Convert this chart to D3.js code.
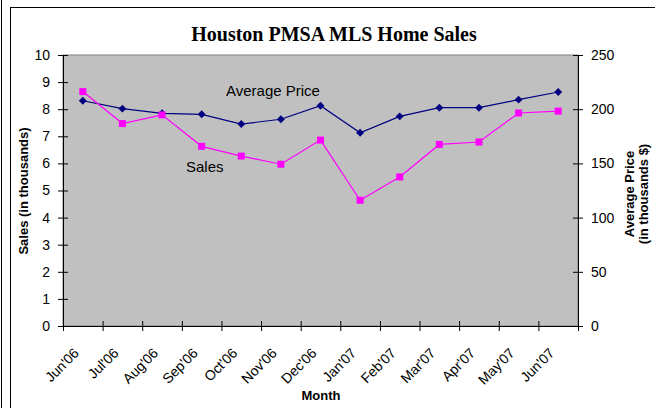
<!DOCTYPE html>
<html>
<head>
<meta charset="utf-8">
<script src="https://cdn.jsdelivr.net/npm/d3@7/dist/d3.min.js"></script>
<style>
  html, body { margin: 0; padding: 0; background: #fff; }
  svg { display: block; }
  text { font-family: Arial, "Liberation Sans", sans-serif; }
</style>
</head>
<body>
<svg id="chart" width="655" height="408"></svg>
<script>
const months = ["Jun'06","Jul'06","Aug'06","Sep'06","Oct'06","Nov'06","Dec'06","Jan'07","Feb'07","Mar'07","Apr'07","May'07","Jun'07"];
const sales = [8.65, 7.47, 7.79, 6.63, 6.27, 5.97, 6.86, 4.64, 5.50, 6.70, 6.79, 7.86, 7.93];
const avgPrice = [207.8, 200.5, 196.2, 195.3, 186.3, 190.7, 203.2, 178.3, 193.4, 201.4, 201.4, 208.8, 215.9];
const salesTicks = [0,1,2,3,4,5,6,7,8,9,10];
const priceTicks = [0,50,100,150,200,250];

const svg = d3.select("#chart");
const L = 63, R = 578, T = 55, B = 326;

// frame
svg.append("line").attr("x1",1.5).attr("x2",1.5).attr("y1",0).attr("y2",408).attr("stroke","#000").attr("stroke-width",1);
svg.append("rect").attr("x",10.5).attr("y",7.5).attr("width",700).attr("height",450)
  .attr("fill","none").attr("stroke","#000").attr("stroke-width",1);

const x = d3.scaleBand().domain(months).range([L, R]);
const xb = d3.scaleLinear().domain([0, months.length]).range([L, R]);
const yL = d3.scaleLinear().domain([0,10]).range([B, T]);
const yR = d3.scaleLinear().domain([0,250]).range([B, T]);

// plot area
svg.append("rect").attr("x",L).attr("y",T).attr("width",R-L).attr("height",B-T)
  .attr("fill","#C0C0C0").attr("stroke","#808080").attr("stroke-width",1);

// title
svg.append("text").attr("x",334).attr("y",41).attr("text-anchor","middle")
  .style("font-family","'Liberation Serif','Times New Roman',serif").style("font-weight","bold").style("font-size","20px")
  .text("Houston PMSA MLS Home Sales");

// left axis
const gl = svg.append("g").attr("transform",`translate(${L},0)`)
  .call(d3.axisLeft(yL).tickValues(salesTicks).tickSize(5).tickPadding(8));
gl.selectAll(".tick line").attr("x1",5).attr("x2",-5);
// right axis
const gr = svg.append("g").attr("transform",`translate(${R},0)`)
  .call(d3.axisRight(yR).tickValues(priceTicks).tickSize(5).tickPadding(8));
gr.selectAll(".tick line").attr("x1",-5).attr("x2",5);
// x axis ticks
const gx = svg.append("g").attr("transform",`translate(0,${B})`)
  .call(d3.axisBottom(xb).tickValues(d3.range(0, months.length+1)).tickSize(5).tickFormat(""));
gx.selectAll(".tick line").attr("y1",-5).attr("y2",5);
// x labels
const gxl = svg.append("g").attr("transform",`translate(0,${B})`)
  .call(d3.axisBottom(x).tickSize(0).tickPadding(0));
gxl.select(".domain").remove();
gxl.selectAll(".tick text").attr("text-anchor","end").attr("dy",0).attr("y",0)
  .attr("transform","translate(-3,28) rotate(-45)");

[gl, gr, gx, gxl].forEach(g => {
  g.selectAll("text").style("font-size","14px").style("font-family","Arial, 'Liberation Sans', sans-serif").attr("fill","#000");
  g.selectAll("line, path").attr("stroke","#000");
});

// axis titles
svg.append("text").attr("transform","translate(28,191) rotate(-90)").attr("text-anchor","middle")
  .style("font-weight","bold").style("font-size","13px").text("Sales (in thousands)");
const rt = svg.append("text").attr("transform","translate(634,194) rotate(-90)").attr("text-anchor","middle")
  .style("font-weight","bold").style("font-size","13px");
rt.append("tspan").attr("x",0).attr("dy",0).text("Average Price");
rt.append("tspan").attr("x",0).attr("dy","1.05em").text("(in thousands $)");
svg.append("text").attr("x",321).attr("y",400).attr("text-anchor","middle")
  .style("font-weight","bold").style("font-size","13px").text("Month");

const cx = d => x(d) + x.bandwidth()/2;

// price line
svg.append("path").datum(avgPrice)
  .attr("d", d3.line().x((d,i)=>cx(months[i])).y(d=>yR(d)))
  .attr("fill","none").attr("stroke","#000080").attr("stroke-width",1.2);
svg.selectAll(".pm").data(avgPrice).enter().append("path")
  .attr("d", d3.symbol().type(d3.symbolDiamond2).size(40))
  .attr("transform",(d,i)=>`translate(${cx(months[i])},${yR(d)})`)
  .attr("fill","#000080");

// sales line
svg.append("path").datum(sales)
  .attr("d", d3.line().x((d,i)=>cx(months[i])).y(d=>yL(d)))
  .attr("fill","none").attr("stroke","#FF00FF").attr("stroke-width",1.2);
svg.selectAll(".sm").data(sales).enter().append("rect")
  .attr("x",(d,i)=>cx(months[i])-3.5).attr("y",d=>yL(d)-3.5)
  .attr("width",7).attr("height",7).attr("fill","#FF00FF");

// annotations
svg.append("text").attr("x",226).attr("y",96).style("font-size","15px").attr("fill","#000").text("Average Price");
svg.append("text").attr("x",186).attr("y",172).style("font-size","15px").attr("fill","#000").text("Sales");
</script>
</body>
</html>
